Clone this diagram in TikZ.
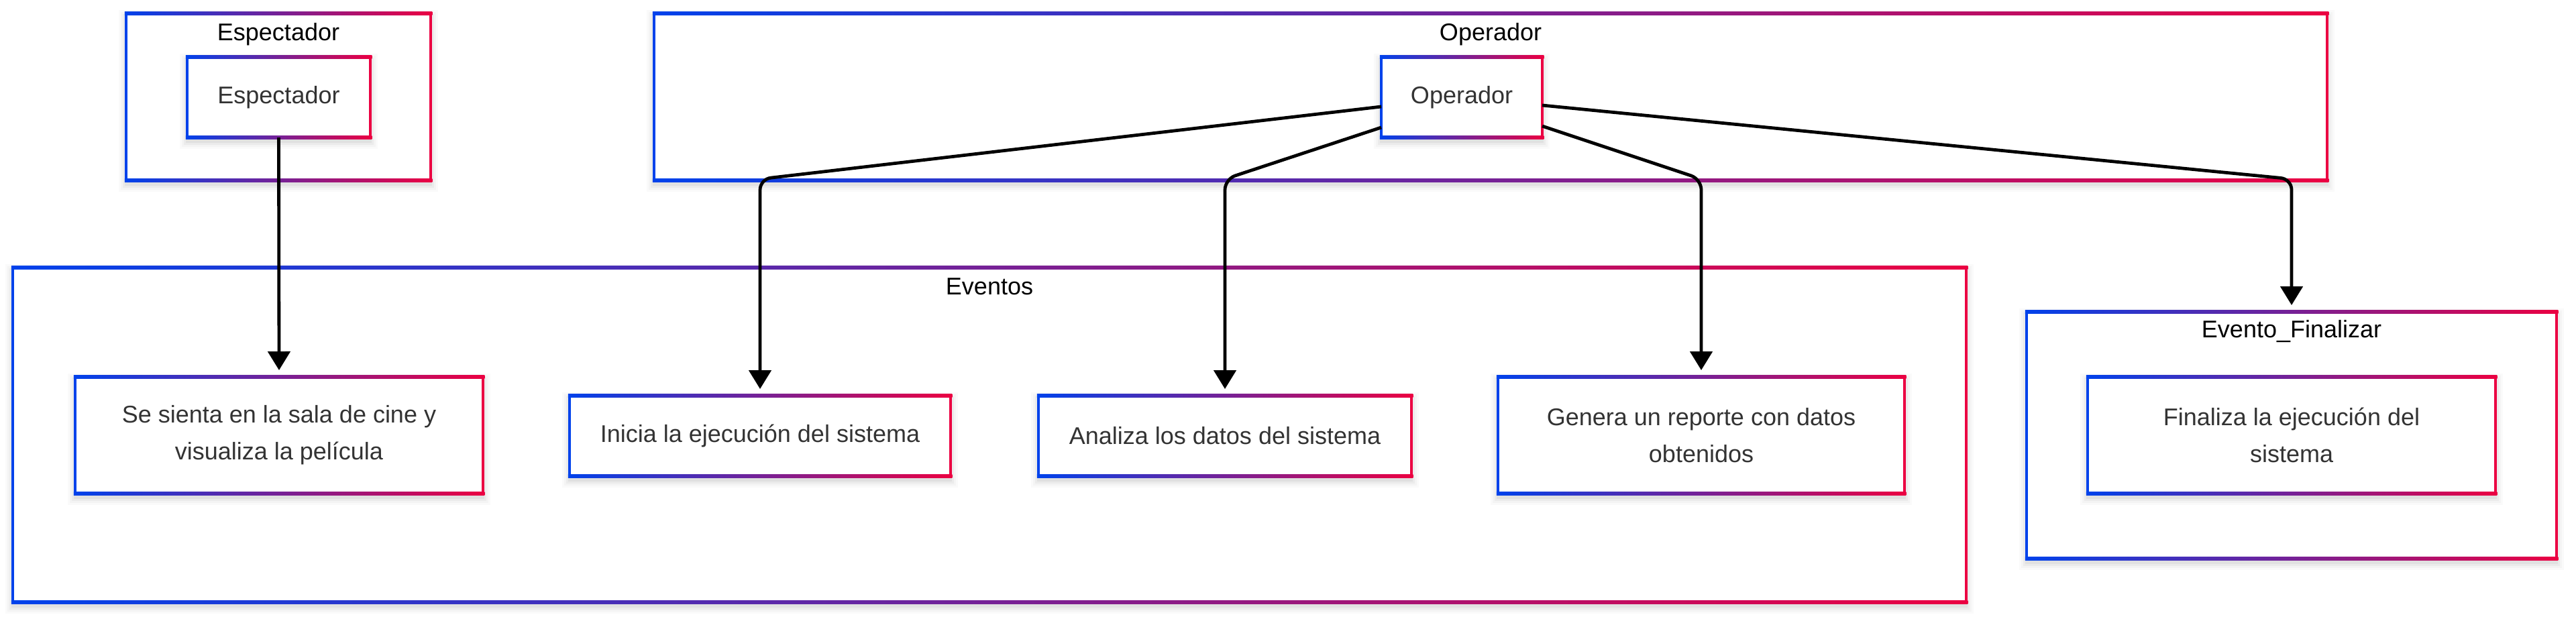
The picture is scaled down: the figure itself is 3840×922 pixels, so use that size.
\documentclass[tikz,border=0pt]{standalone}
\usepackage{fontspec}
\setmainfont{Liberation Sans}
\usetikzlibrary{calc,arrows.meta}
\definecolor{gblue}{HTML}{0042EB}
\definecolor{gred}{HTML}{EB0042}
\definecolor{txt}{HTML}{333333}
\pgfdeclarelayer{bg}
\pgfsetlayers{bg,main}
\newcommand{\gframe}[1]{%
  \begin{pgfonlayer}{bg}
    \foreach \gs/\go in {11/0.018,8/0.025,5/0.035,2/0.045}{%
      \fill[black,fill opacity=\go] ($(#1.north west)+(-\gs,-\gs+6)$) rectangle ($(#1.south east)+(\gs,\gs+6)$);
    }
    \fill[white] (#1.north west) rectangle (#1.south east);
  \end{pgfonlayer}
  \shade[left color=gblue,right color=gred] ($(#1.north west)+(-2.25,-2.25)$) rectangle ($(#1.north east)+(2.25,2.25)$);
  \shade[left color=gblue,right color=gred] ($(#1.south west)+(-2.25,-2.25)$) rectangle ($(#1.south east)+(2.25,2.25)$);
  \fill[gblue] ($(#1.north west)+(-2.25,0)$) rectangle ($(#1.south west)+(2.25,0)$);
  \fill[gred] ($(#1.north east)+(-2.25,0)$) rectangle ($(#1.south east)+(2.25,0)$);
}
\begin{document}
\begin{tikzpicture}[x=0.25pt,y=-0.25pt,
  every node/.style={inner sep=0pt,outer sep=0pt,font=\fontsize{9pt}{13.75pt}\selectfont},
  box/.style={rectangle,align=center,text=txt},
  cluster/.style={rectangle},
  title/.style={anchor=base,text=black},
  edge/.style={draw=black,line width=1.2pt,rounded corners=4pt,-{Triangle[length=7pt,width=8.25pt]},shorten >=2.5pt}]
\useasboundingbox (0,0) rectangle (3840,922);

% clusters
\node[cluster,minimum width=113.5pt,minimum height=62.25pt] (cEsp) at (415,144.5) {};
\gframe{cEsp}
\node[cluster,minimum width=623.5pt,minimum height=62.25pt] (cOp) at (2222,144.5) {};
\gframe{cOp}
\node[cluster,minimum width=728pt,minimum height=124.75pt] (cEv) at (1475,648.5) {};
\gframe{cEv}
\node[cluster,minimum width=197.5pt,minimum height=92pt] (cFin) at (3416,649) {};
\gframe{cFin}

\node[title] (tEsp) at (415,60) {Espectador};
\node[title] (tOp) at (2222,60) {Operador};
\node[title] (tEv) at (1475,439) {Eventos};
\node[title] (tFin) at (3416,503) {Evento\_Finalizar};

% nodes
\node[box,minimum width=68.25pt,minimum height=30pt] (esp) at (415.5,145) {Espectador};
\gframe{esp}
\node[box,minimum width=60pt,minimum height=30pt] (op) at (2179,145) {Operador};
\gframe{op}
\node[box,minimum width=152pt,minimum height=43.5pt] (sienta) at (416,649) {Se sienta en la sala de cine y\\visualiza la película};
\gframe{sienta}
\node[box,minimum width=142pt,minimum height=30pt] (inicia) at (1133,650) {Inicia la ejecución del sistema};
\gframe{inicia}
\node[box,minimum width=139pt,minimum height=30pt] (analiza) at (1826,650) {Analiza los datos del sistema};
\gframe{analiza}
\node[box,minimum width=151.5pt,minimum height=43.5pt] (genera) at (2536,649) {Genera un reporte con datos\\obtenidos};
\gframe{genera}
\node[box,minimum width=152pt,minimum height=43.5pt] (fin) at (3416,649) {Finaliza la ejecución del\\sistema};
\gframe{fin}

% edges
\coordinate (bend) at (0,267);
\draw[edge] (esp.south) -- (sienta.north);
\draw[edge] ($(op.west)+(0,14)$) -- (inicia.north |- bend) -- (inicia.north);
\draw[edge] ($(op.west)+(0,45)$) -- (analiza.north |- bend) -- (analiza.north);
\draw[edge] ($(op.east)+(0,43)$) -- (genera.north |- bend) -- (genera.north);
\draw[edge] ($(op.east)+(0,12)$) -- (cFin.north |- bend) -- (cFin.north);
\end{tikzpicture}
\end{document}
